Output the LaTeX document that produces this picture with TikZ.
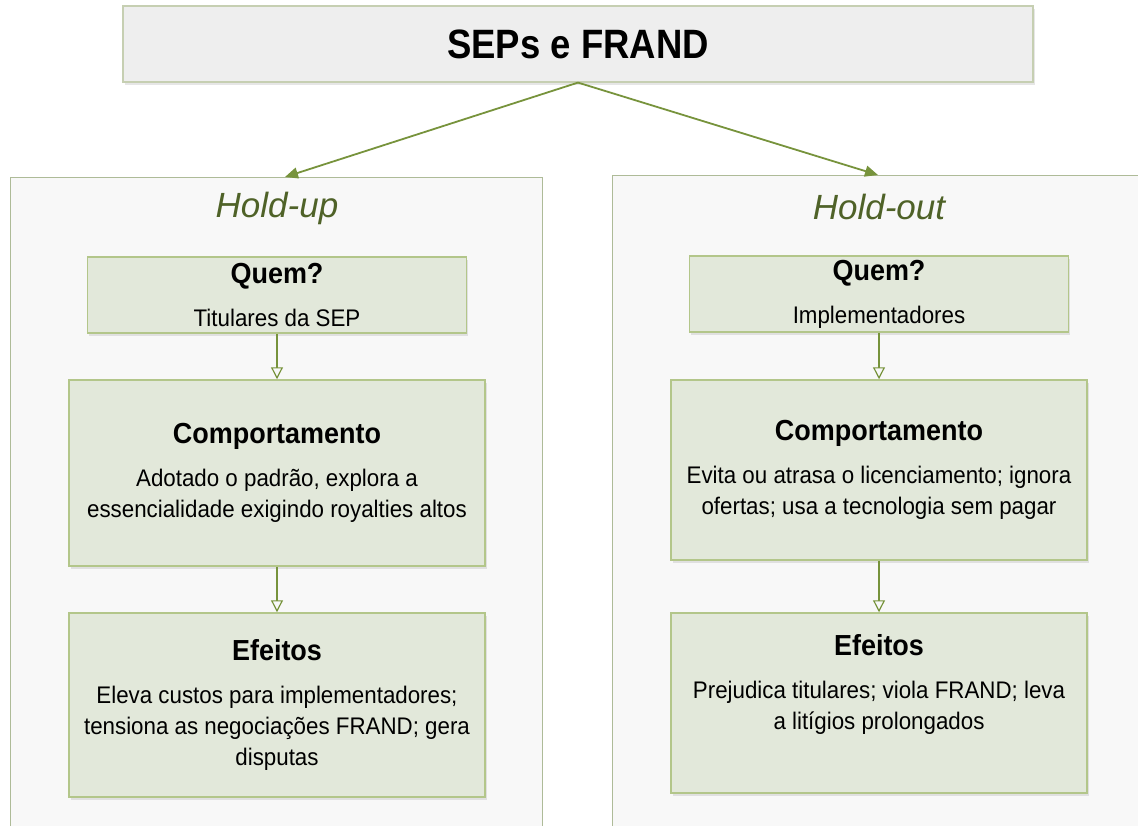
\documentclass[tikz,border=0pt]{standalone}
\usepackage{fontspec}
\setmainfont{Liberation Sans}
\newfontfamily\cardfont[FakeStretch=0.93]{Liberation Sans}
\newfontfamily\topfont[FakeStretch=0.89]{Liberation Sans}
\usetikzlibrary{positioning, arrows.meta, shadows}

\definecolor{linkgreen}{HTML}{77933C}
\definecolor{headgreen}{HTML}{4F6228}
\definecolor{cardfill}{HTML}{E2E8DA}
\definecolor{cardline}{HTML}{B3C68A}
\definecolor{panelfill}{HTML}{F8F8F8}
\definecolor{panelline}{HTML}{AEBB98}
\definecolor{topfill}{HTML}{EEEEEE}
\definecolor{topline}{HTML}{C6CFB2}

\newcommand{\headfont}{\bfseries\fontsize{29}{31}\selectfont}

\tikzset{
  soft shadow/.style={drop shadow={opacity=0.2, shadow xshift=1.5pt, shadow yshift=-2.5pt}},
  topbox/.style={draw=topline, fill=topfill, line width=1.2pt, minimum width=910pt, minimum height=76pt, soft shadow, font=\topfont\bfseries\fontsize{41}{48}\selectfont},
  panel/.style={draw=panelline, fill=panelfill, line width=0.8pt, minimum width=532pt, minimum height=680pt, anchor=north},
  side title/.style={text=headgreen, font=\itshape\fontsize{35}{40}\selectfont},
  card/.style={draw=cardline, fill=cardfill, line width=1.5pt, align=center, inner sep=2pt, soft shadow, font=\cardfont\fontsize{24}{31}\selectfont},
  whobox/.style={card, minimum width=379pt, minimum height=76pt},
  infobox/.style={card, minimum width=416pt},
  link arrow/.style={->, draw=linkgreen, line width=1.8pt, >={Triangle[length=13pt, width=11pt]}},
  step arrow/.style={->, draw=linkgreen, line width=1.2pt, >={Triangle[open, length=12pt, width=12pt]}}
}

\begin{document}
\begin{tikzpicture}[x=1pt, y=-1pt, node distance=88pt, on grid]
    \useasboundingbox (0,0) rectangle (1138,825);

    % title and the two panels
    \node[topbox] (SEP) at (578,44) {SEPs e FRAND};
    \node[panel] (PL) at (276,177) {};
    \node[panel] (PR) at (878,175) {};
    \node[side title] (HU) at (277,208) {Hold-up};
    \node[side title] (HO) at (879,207) {Hold-out};

    % hold-up
    \node[whobox] (LQ) [below=87pt of HU] {{\headfont Quem?}\\[12pt]Titulares da SEP};
    \node[infobox, minimum height=186pt] (LC) [below=178pt of LQ]
        {{\headfont Comportamento}\\[12pt]Adotado o padrão, explora a\\essencialidade exigindo royalties altos};
    \node[infobox, minimum height=184pt] (LE) [below=232pt of LC]
        {{\headfont Efeitos}\\[12pt]Eleva custos para implementadores;\\tensiona as negociações FRAND; gera\\disputas};

    % hold-out
    \node[whobox] (RQ) [below=87pt of HO] {{\headfont Quem?}\\[12pt]Implementadores};
    \node[infobox, minimum height=180pt] (RC) [below=176pt of RQ]
        {{\headfont Comportamento}\\[12pt]Evita ou atrasa o licenciamento; ignora\\ofertas; usa a tecnologia sem pagar};
    \node[infobox, minimum height=180pt] (RE) [below=233pt of RC]
        {{\headfont Efeitos}\\[12pt]Prejudica titulares; viola FRAND; leva\\a litígios prolongados\\[12pt]\mbox{}};

    \draw[link arrow] (SEP.south) -- ([xshift=9pt]PL.north);
    \draw[link arrow] (SEP.south) -- (PR.north);

    \draw[step arrow] (LQ) -- (LC);
    \draw[step arrow] (LC) -- (LE);
    \draw[step arrow] (RQ) -- (RC);
    \draw[step arrow] (RC) -- (RE);
\end{tikzpicture}
\end{document}
